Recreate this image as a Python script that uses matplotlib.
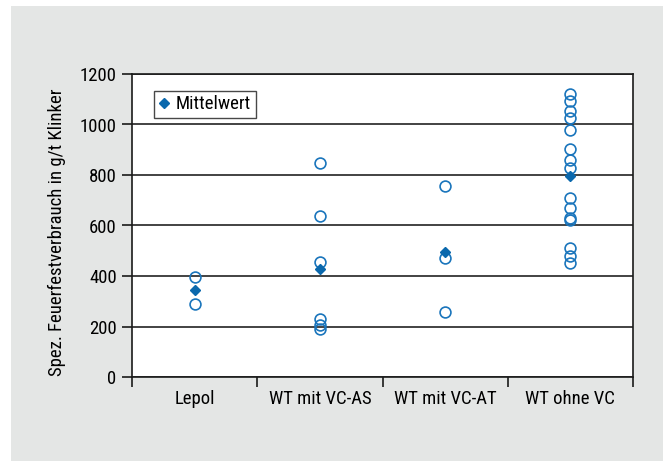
import numpy as np
import matplotlib
matplotlib.use("Agg")
import matplotlib.pyplot as plt
from matplotlib.patches import Rectangle
from matplotlib.lines import Line2D

plt.rcParams['font.family'] = ['Roboto Condensed', 'Archivo Narrow', 'Liberation Sans', 'DejaVu Sans']

categories = ["Lepol", "WT mit VC-AS", "WT mit VC-AT", "WT ohne VC"]
lepol = [398, 291]
wt_vc_as = [846, 637, 455, 231, 205, 190]
wt_vc_at = [757, 472, 256]
wt_ohne_vc = [1120, 1093, 1055, 1026, 977, 903, 858, 827, 709, 668, 631, 622, 510, 479, 450]
series = [lepol, wt_vc_as, wt_vc_at, wt_ohne_vc]

y_ticks = [0, 200, 400, 600, 800, 1000, 1200]
legend_label = "Mittelwert"
y_label = "Spez. Feuerfestverbrauch in g/t Klinker"

blue = "#1a75bc"
mean_blue = "#0a68ad"
fs = 13.5

fig = plt.figure(figsize=(6.63, 4.61), dpi=100, facecolor="white")
fig.patches.append(Rectangle((11 / 663, 0), 1 - 11 / 663, 1 - 6 / 461,
                             transform=fig.transFigure, facecolor="#e4e6e5",
                             edgecolor="none", zorder=-10))

ax = fig.add_axes([132 / 663, 1 - 377 / 461, (633 - 132) / 663, (377 - 74) / 461])
ax.set_facecolor("white")

for i, vals in enumerate(series):
    ax.plot([i] * len(vals), vals, linestyle="none", marker="o", markersize=7.8,
            markerfacecolor="none", markeredgecolor=blue, markeredgewidth=1.2, zorder=3)
    ax.plot([i], [np.mean(vals)], linestyle="none", marker="D", markersize=5.5,
            color=mean_blue, zorder=4)

ax.set_xlim(-0.5, 3.5)
ax.set_ylim(0, 1200)
ax.set_yticks(y_ticks)
ax.set_yticklabels([str(v) for v in y_ticks], fontsize=fs)
ax.yaxis.grid(True, color="#222222", linewidth=1.2)
ax.set_axisbelow(True)

ax.set_xticks(np.arange(-0.5, 4, 1))
ax.set_xticklabels([])
ax.set_xticks(np.arange(len(categories)), minor=True)
ax.set_xticklabels(categories, minor=True, fontsize=fs)
ax.tick_params(axis="x", which="major", length=7, width=1.2, direction="out", color="#1a1a1a")
ax.tick_params(axis="x", which="minor", length=0, pad=9)
ax.tick_params(axis="y", length=7, width=1.2, direction="out", color="#1a1a1a", pad=4)

for s in ax.spines.values():
    s.set_color("#1a1a1a")
    s.set_linewidth(1.2)

ax.set_ylabel(y_label, fontsize=fs)
ax.yaxis.set_label_coords(-0.132, 0.477)

handle = Line2D([], [], linestyle="none", marker="D", markersize=5.5, color=mean_blue)
leg = ax.legend([handle], [legend_label], loc="upper left", bbox_to_anchor=(0.044, 0.945),
                fontsize=fs, frameon=True, fancybox=False, handlelength=0.6,
                handletextpad=0.3, borderpad=0.25, borderaxespad=0)
leg.get_frame().set_edgecolor("#1a1a1a")
leg.get_frame().set_linewidth(1.0)

fig.savefig("out.png", dpi=100, facecolor=fig.get_facecolor())
